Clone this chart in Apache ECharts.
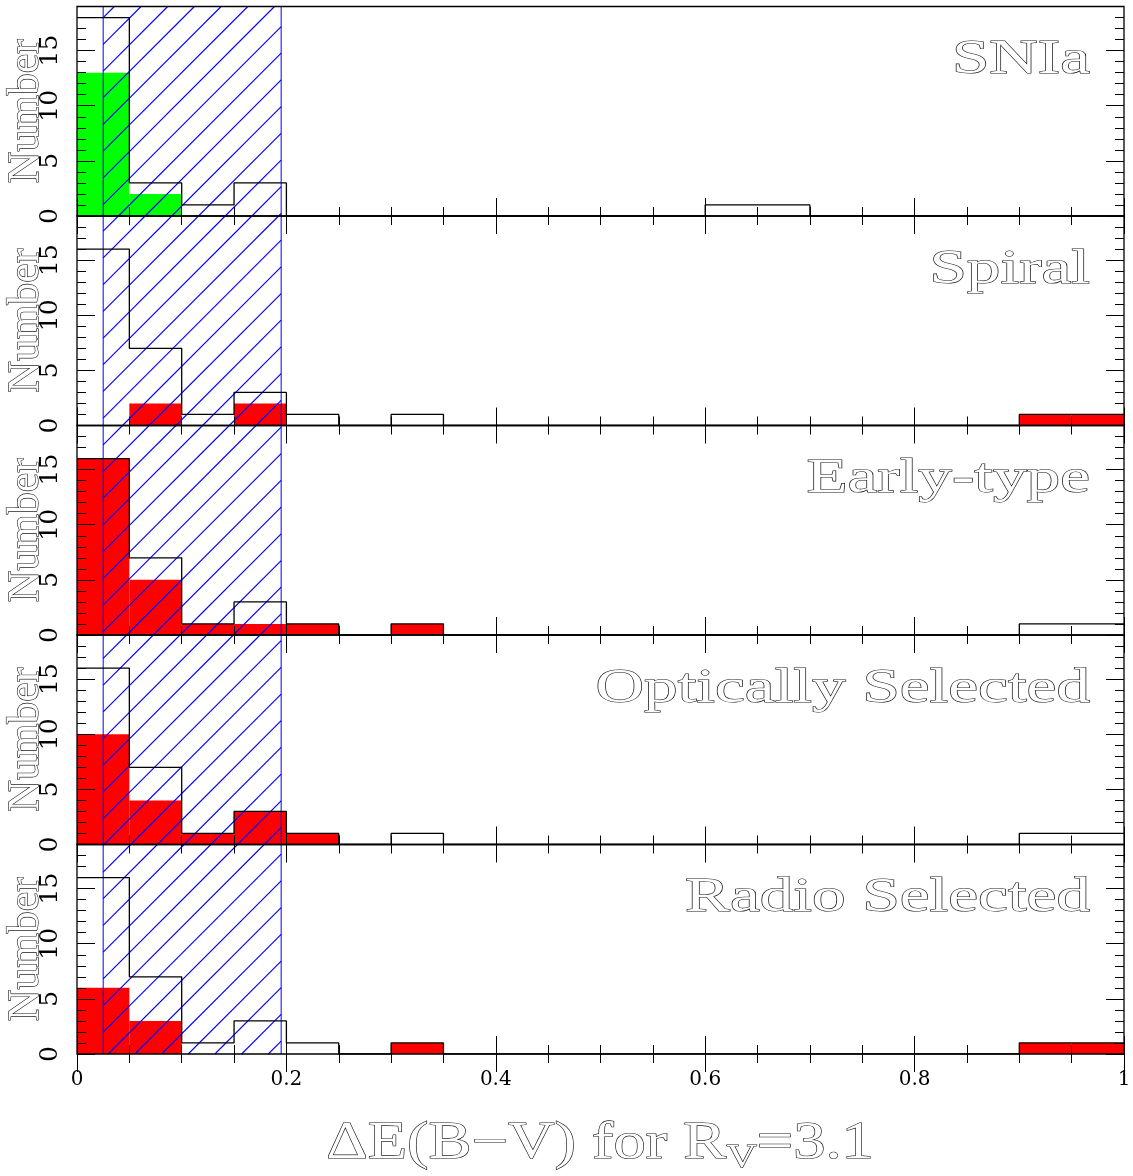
<!DOCTYPE html>
<html>
<head>
<meta charset="utf-8">
<script src="https://cdn.jsdelivr.net/npm/echarts@6/dist/echarts.min.js"></script>
<style>
  html, body { margin: 0; padding: 0; background: #fff; }
  #chart { width: 1133px; height: 1176px; }
</style>
</head>
<body>
<div id="chart"></div>
<script>
// Lower edges of the ΔE(B−V) bins (each 0.05 wide)
const binStarts = [0, 0.05, 0.1, 0.15, 0.2, 0.25, 0.3, 0.35, 0.4, 0.45,
                   0.5, 0.55, 0.6, 0.65, 0.7, 0.75, 0.8, 0.85, 0.9, 0.95];
const binWidth = 0.05;

const panelNames = ['SNIa', 'Spiral', 'Early-type', 'Optically Selected', 'Radio Selected'];

// Open (outline) histograms
const snTotal  = [18, 3, 1, 3, 0, 0, 0, 0, 0, 0, 0, 0, 1, 1, 0, 0, 0, 0, 0, 0];
const galTotal = [16, 7, 1, 3, 1, 0, 1, 0, 0, 0, 0, 0, 0, 0, 0, 0, 0, 0, 1, 1];

// Filled sub-samples
const snIa      = [13, 2, 0, 0, 0, 0, 0, 0, 0, 0, 0, 0, 0, 0, 0, 0, 0, 0, 0, 0];
const spiral    = [0, 2, 0, 2, 0, 0, 0, 0, 0, 0, 0, 0, 0, 0, 0, 0, 0, 0, 1, 1];
const earlyType = [16, 5, 1, 1, 1, 0, 1, 0, 0, 0, 0, 0, 0, 0, 0, 0, 0, 0, 0, 0];
const optical   = [10, 4, 1, 3, 1, 0, 0, 0, 0, 0, 0, 0, 0, 0, 0, 0, 0, 0, 0, 0];
const radio     = [6, 3, 0, 0, 0, 0, 1, 0, 0, 0, 0, 0, 0, 0, 0, 0, 0, 0, 1, 1];

// Shaded ΔE(B−V) interval
const hatchRange = [0.025, 0.195];

// Axis ranges and ticks
const xRange = [0, 1];
const xMajor = 0.2;
const yRange = [0, 19];
const yMajor = 5;
const yMinor = 1;

const totals = [snTotal, galTotal, galTotal, galTotal, galTotal];
const subsets = [snIa, spiral, earlyType, optical, radio];
const fillColors = ['#00ff00', '#ff0000', '#ff0000', '#ff0000', '#ff0000'];

const SERIF = '"DejaVu Serif", "Liberation Serif", serif';
const ROMAN = '"Liberation Serif", "DejaVu Serif", serif';
const LEFT = 77, RIGHT = 9, TOP0 = 6.5, PANEL_H = 209.5;
const HATCH_STEP = 26.7;   // spacing of the diagonal hatch lines along x (px)
const HATCH_PHASE = 14;    // x + y offset of the hatch lines (px)
const HATCH_BLUE = '#0000ff';
const TEXT_LINE = '#111';

const chart = echarts.init(document.getElementById('chart'), null, { renderer: 'canvas' });

const grids = [], xAxes = [], yAxes = [], series = [], graphics = [];

function tickStyle(len) {
  return { show: true, inside: true, length: len, lineStyle: { color: '#000', width: 1 } };
}

// Diagonal (up-right) hatch segments clipped to a screen rectangle
function hatchLines(x0, y0, x1, y1) {
  const out = [];
  const cStart = Math.ceil((x0 + y0 - HATCH_PHASE) / HATCH_STEP);
  const cEnd = Math.floor((x1 + y1 - HATCH_PHASE) / HATCH_STEP);
  for (let k = cStart; k <= cEnd; k++) {
    const c = HATCH_PHASE + k * HATCH_STEP;
    const xa = Math.max(x0, c - y1), xb = Math.min(x1, c - y0);
    if (xb <= xa) continue;
    out.push({
      type: 'line',
      shape: { x1: xa, y1: c - xa, x2: xb, y2: c - xb },
      style: { stroke: HATCH_BLUE, fill: null, lineWidth: 1.1 }
    });
  }
  return out;
}

for (let i = 0; i < 5; i++) {
  const top = TOP0 + i * PANEL_H;
  grids.push({
    left: LEFT, right: RIGHT, top: top, height: PANEL_H,
    outerBoundsMode: 'none', containLabel: false,
    show: true, borderColor: '#000', borderWidth: 1.3, backgroundColor: 'transparent', z: 10
  });

  const xBase = {
    gridIndex: i, type: 'value', min: xRange[0], max: xRange[1], interval: xMajor, z: 10,
    axisLine: { show: false },
    axisTick: tickStyle(18),
    minorTick: { show: true, splitNumber: 4, length: 9, lineStyle: { color: '#000', width: 1 } },
    splitLine: { show: false }, minorSplitLine: { show: false }
  };
  xAxes.push(Object.assign({}, xBase, {
    position: 'bottom',
    axisLabel: {
      show: i === 4, margin: 16, color: '#000', fontFamily: SERIF, fontSize: 20,
      formatter: v => (v === 0 ? '0' : v === 1 ? '1' : v.toFixed(1))
    }
  }));
  xAxes.push(Object.assign({}, xBase, { position: 'top', axisLabel: { show: false } }));

  const yBase = {
    gridIndex: i, type: 'value', min: yRange[0], max: yRange[1], z: 10,
    axisLine: { show: false }, splitLine: { show: false }
  };
  // left: major ticks with labels and the axis name
  yAxes.push(Object.assign({}, yBase, {
    position: 'left', interval: yMajor, axisTick: tickStyle(18),
    axisLabel: {
      show: true, rotate: 90, margin: 14, color: '#000', fontFamily: SERIF, fontSize: 25,
      formatter: v => (v % yMajor === 0 ? String(v) : '')
    },
    name: 'Number', nameLocation: 'middle', nameRotate: 90, nameGap: 29,
    nameMoveOverlap: false,
    nameTextStyle: {
      fontFamily: ROMAN, fontSize: 44, color: '#fff',
      textBorderColor: TEXT_LINE, textBorderWidth: 1.2
    }
  }));
  // left: minor ticks
  yAxes.push(Object.assign({}, yBase, {
    position: 'left', interval: yMinor, axisTick: tickStyle(9), axisLabel: { show: false }
  }));
  // right: major and minor ticks
  yAxes.push(Object.assign({}, yBase, {
    position: 'right', interval: yMajor, axisTick: tickStyle(18), axisLabel: { show: false }
  }));
  yAxes.push(Object.assign({}, yBase, {
    position: 'right', interval: yMinor, axisTick: tickStyle(9), axisLabel: { show: false }
  }));

  const xi = 2 * i, yi = 4 * i;

  // filled sub-sample histogram
  series.push({
    type: 'custom', xAxisIndex: xi, yAxisIndex: yi, z: 2, silent: true,
    itemStyle: { color: fillColors[i] },
    encode: { x: 0, y: 1 },
    data: binStarts.map((x, k) => [x, subsets[i][k]]),
    renderItem: (params, api) => {
      const x0 = api.value(0), n = api.value(1);
      if (!n) return null;
      const p0 = api.coord([x0, n]);
      const p1 = api.coord([x0 + binWidth, 0]);
      return {
        type: 'rect',
        shape: { x: p0[0], y: p0[1], width: p1[0] - p0[0], height: p1[1] - p0[1] },
        style: { fill: api.visual('color') }
      };
    }
  });

  // hatched interval with its bounding lines
  series.push({
    type: 'custom', xAxisIndex: xi, yAxisIndex: yi, z: 3, silent: true,
    itemStyle: { color: HATCH_BLUE },
    encode: { x: [0, 1] },
    data: [[hatchRange[0], hatchRange[1]]],
    clip: false,
    renderItem: (params, api) => {
      const a = api.coord([api.value(0), yRange[1]]);
      const b = api.coord([api.value(1), yRange[0]]);
      const children = hatchLines(a[0], a[1], b[0], b[1]);
      children.push(
        { type: 'line', shape: { x1: a[0], y1: a[1], x2: a[0], y2: b[1] },
          style: { stroke: HATCH_BLUE, fill: null, lineWidth: 1 } },
        { type: 'line', shape: { x1: b[0], y1: a[1], x2: b[0], y2: b[1] },
          style: { stroke: HATCH_BLUE, fill: null, lineWidth: 1 } }
      );
      return { type: 'group', children: children };
    }
  });

  // open histogram outline
  const outline = binStarts.map((x, k) => [x, totals[i][k]]);
  outline.push([xRange[1], totals[i][totals[i].length - 1]]);
  series.push({
    type: 'line', xAxisIndex: xi, yAxisIndex: yi, z: 4, silent: true,
    step: 'end', symbol: 'none', animation: false,
    lineStyle: { color: '#000', width: 1.3 },
    data: outline
  });

  // panel name
  graphics.push({
    type: 'text', x: 1090, y: top + 30, scaleX: 1.4, z: 20,
    style: {
      text: panelNames[i], font: '48px ' + ROMAN, align: 'right', verticalAlign: 'top',
      fill: '#fff', stroke: TEXT_LINE, lineWidth: 1.1
    }
  });
}

// x-axis title with subscript
graphics.push({
  type: 'text', x: 600, y: 1114, scaleX: 1.24, z: 20,
  style: {
    text: '{a|ΔE(B−V) for R}{s|V}{a|=3.1}', align: 'center', verticalAlign: 'top',
    rich: {
      a: { font: '52px ' + ROMAN, fill: '#fff', stroke: TEXT_LINE, lineWidth: 1.1, lineHeight: 60 },
      s: { font: '34px ' + ROMAN, fill: '#fff', stroke: TEXT_LINE, lineWidth: 1.1, lineHeight: 34, padding: [28, 0, 0, 0] }
    }
  }
});

chart.setOption({
  animation: false,
  backgroundColor: '#fff',
  grid: grids,
  xAxis: xAxes,
  yAxis: yAxes,
  series: series,
  graphic: graphics
});
</script>
</body>
</html>
